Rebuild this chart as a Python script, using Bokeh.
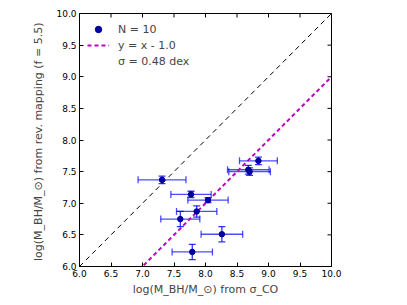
import math
from bokeh.plotting import figure
from bokeh.models import (ColumnDataSource, Whisker, TeeHead, Legend, LegendItem,
                          FixedTicker, Range1d)
from bokeh.embed import file_html
from bokeh.resources import INLINE

# data
x_sigma = [7.31, 7.77, 8.04, 7.86, 7.60, 8.26, 7.79, 8.84, 8.68, 8.70]
x_err = [0.38, 0.32, 0.32, 0.32, 0.31, 0.33, 0.32, 0.30, 0.33, 0.33]
y_rm = [7.37, 7.14, 7.05, 6.87, 6.75, 6.51, 6.23, 7.67, 7.53, 7.50]
y_err = [0.06, 0.05, 0.04, 0.09, 0.12, 0.12, 0.12, 0.06, 0.07, 0.06]
line_x = [6.0, 10.0]
offset = 1.0
ticks = [6.0, 6.5, 7.0, 7.5, 8.0, 8.5, 9.0, 9.5, 10.0]
x_lim = [6.0, 10.0]
y_lim = [6.0, 10.0]

FONT = "DejaVu Sans"

src = ColumnDataSource(dict(
    x=x_sigma, y=y_rm,
    xl=[a - b for a, b in zip(x_sigma, x_err)],
    xu=[a + b for a, b in zip(x_sigma, x_err)],
    yl=[a - b for a, b in zip(y_rm, y_err)],
    yu=[a + b for a, b in zip(y_rm, y_err)],
))

p = figure(width=400, height=300, output_backend="svg", toolbar_location=None,
           x_range=Range1d(*x_lim), y_range=Range1d(*y_lim),
           min_border_left=79, min_border_right=69, min_border_top=13, min_border_bottom=34)
p.grid.visible = False
p.outline_line_color = "black"
p.outline_line_width = 1

# 1:1 line
p.line(line_x, line_x, line_color="black", line_width=1, line_dash="5 4")
# offset line
mag = p.line(line_x, [v - offset for v in line_x], line_color="#bf00bf", line_width=2, line_dash="4 3")

# error bars
ex = Whisker(source=src, base="y", lower="xl", upper="xu", dimension="width",
             line_color="blue", line_alpha=0.7, line_width=1.3)
ex.upper_head = TeeHead(size=7, line_color="blue", line_alpha=0.7, line_width=1.3)
ex.lower_head = TeeHead(size=7, line_color="blue", line_alpha=0.7, line_width=1.3)
ey = Whisker(source=src, base="x", lower="yl", upper="yu", dimension="height",
             line_color="blue", line_alpha=0.8, line_width=1.3)
ey.upper_head = TeeHead(size=7, line_color="blue", line_alpha=0.8, line_width=1.3)
ey.lower_head = TeeHead(size=7, line_color="blue", line_alpha=0.8, line_width=1.3)
p.add_layout(ex)
p.add_layout(ey)

pts = p.scatter("x", "y", source=src, size=5.5, marker="circle",
                fill_color="#0000aa", line_color="#000088")
dummy = p.scatter([8], [8], alpha=0)

# inward ticks on top and right edges (clipped to the frame)
p.scatter(ticks, [y_lim[1]] * len(ticks), marker="dash", angle=math.pi / 2,
          size=8, line_color="black", line_width=1)
p.scatter([x_lim[1]] * len(ticks), ticks, marker="dash",
          size=8, line_color="black", line_width=1)

legend = Legend(items=[
    LegendItem(label="N = 10", renderers=[pts]),
    LegendItem(label="y = x - 1.0", renderers=[mag]),
    LegendItem(label="σ = 0.48 dex", renderers=[dummy]),
], location="top_left")
legend.margin = 0
legend.padding = 8
legend.spacing = 0
legend.label_height = 16
legend.glyph_height = 16
legend.glyph_width = 22
legend.label_standoff = 9
legend.border_line_alpha = 0
legend.background_fill_alpha = 0
legend.label_text_font = FONT
legend.label_text_font_size = "11px"
p.add_layout(legend)

for ax in (p.xaxis[0], p.yaxis[0]):
    ax.ticker = FixedTicker(ticks=ticks)
    ax.major_tick_in = 4
    ax.major_tick_out = 0
    ax.minor_tick_line_color = None
    ax.major_label_text_font = FONT
    ax.major_label_text_font_size = "9px"
    ax.major_label_text_color = "black"
    ax.axis_label_text_font = FONT
    ax.axis_label_text_font_size = "11px"
    ax.axis_label_text_font_style = "normal"
    ax.axis_line_color = "black"

p.xaxis.major_label_overrides = {t: f"{t:.1f}" for t in ticks}
p.yaxis.major_label_overrides = {t: f"{t:.1f}" for t in ticks}
p.xaxis.axis_label = "log(M_BH/M_⊙) from σ_CO"
p.yaxis.axis_label = "log(M_BH/M_⊙) from  rev. mapping (f = 5.5)"
p.xaxis.major_label_standoff = 3
p.yaxis.major_label_standoff = 3
p.xaxis.axis_label_standoff = 3
p.yaxis.axis_label_standoff = 8

open("out.html", "w").write(file_html(p, INLINE))
